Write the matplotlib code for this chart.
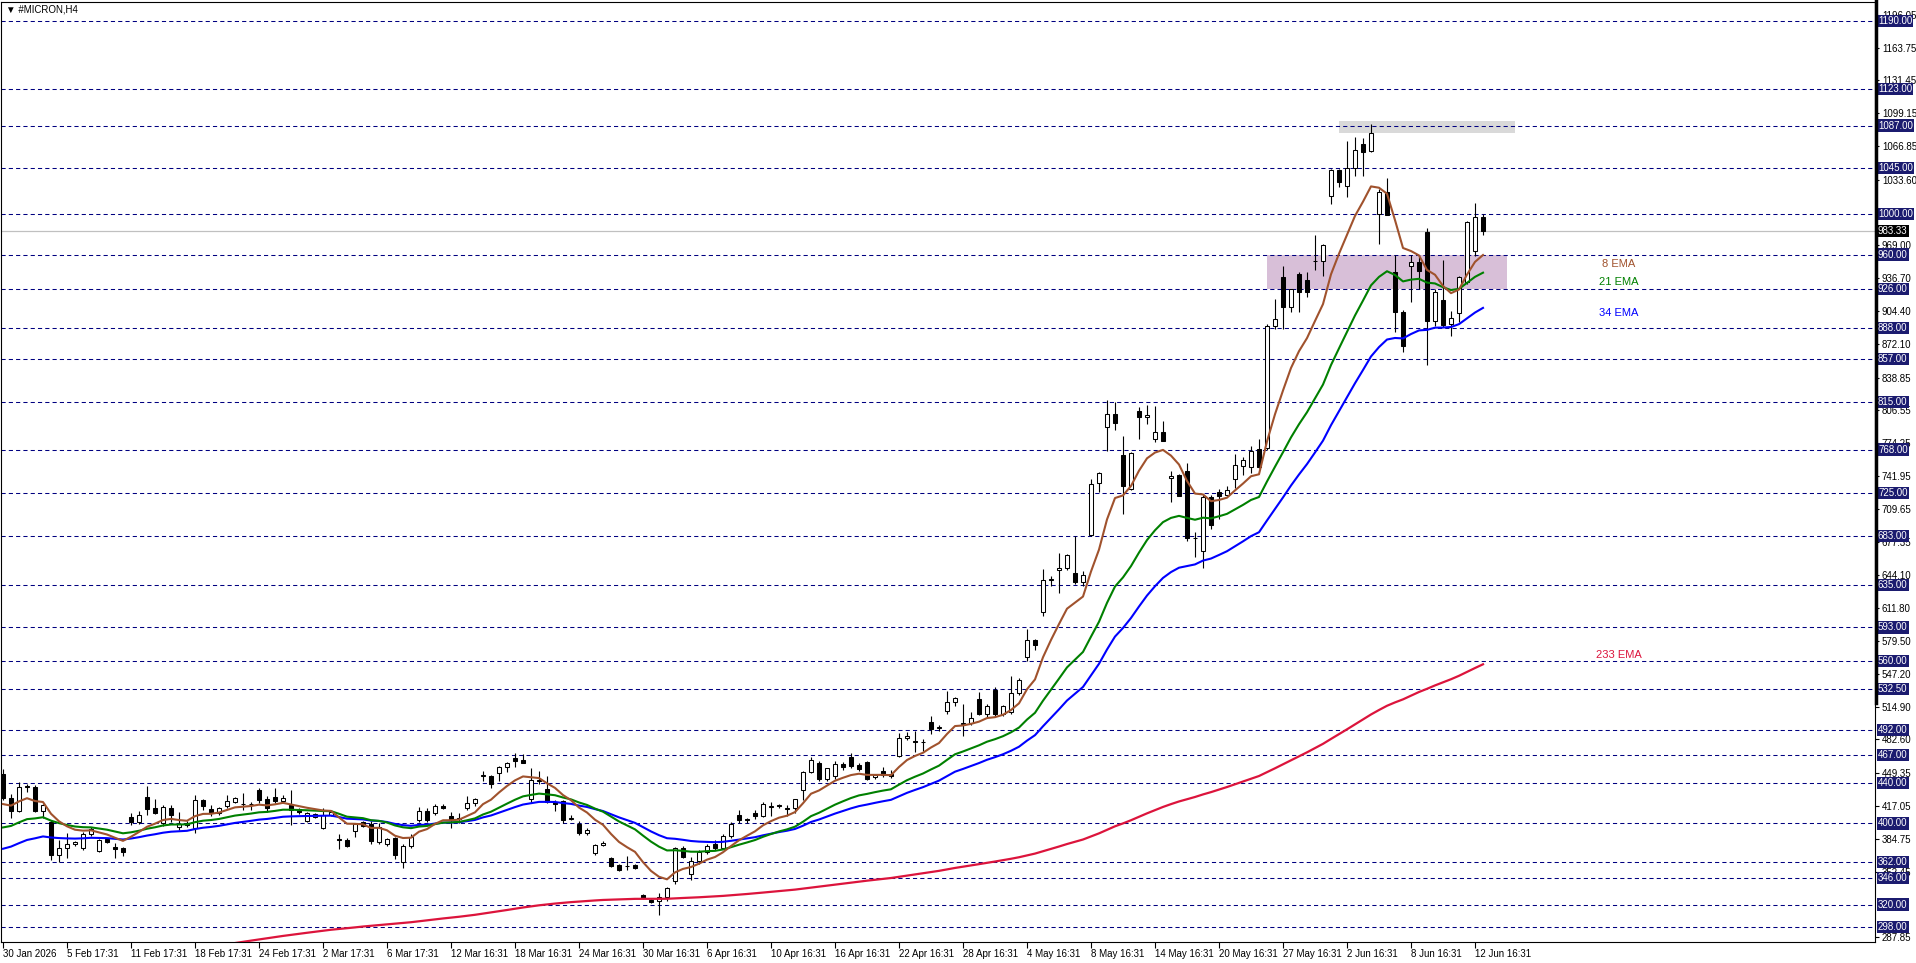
''' MICRON H4 chart with EMA 8/21/34/233 and levels '''

import numpy as np
import matplotlib
matplotlib.use('Agg')
import matplotlib.pyplot as plt
from matplotlib.patches import Rectangle
from matplotlib.lines import Line2D

plt.rcParams['font.family'] = ['Liberation Sans', 'DejaVu Sans']

# H4 candles (bar 0 = 30 Jan 2026)
opens = [
    448.6, 424.6, 412.2, 437.0, 435.5, 412.0, 401.7, 369.0, 376.0, 379.4,
    375.5, 389.6, 373.2, 384.7, 377.1, 375.5, 406.0, 401.0, 426.0, 414.8,
    400.0, 415.4, 396.0, 398.0, 395.1, 422.7, 413.8, 409.9, 417.4, 421.0,
    418.8, 419.0, 432.9, 424.0, 425.6, 422.3, 417.7, 414.0, 402.4, 406.6,
    395.1, 408.5, 384.7, 383.4, 392.5, 401.0, 399.0, 382.0, 379.8, 385.4,
    361.8, 377.8, 403.3, 412.5, 409.9, 417.4, 407.6, 404.0, 414.8, 419.7,
    446.9, 446.9, 449.3, 455.2, 464.0, 462.0, 423.6, 442.4, 433.5, 421.0,
    422.3, 404.0, 399.5, 390.3, 371.2, 379.0, 365.7, 359.1, 358.0, 359.1,
    329.0, 324.6, 323.6, 327.9, 343.7, 375.5, 350.0, 363.0, 372.0, 380.0,
    376.0, 388.0, 408.0, 404.0, 410.0, 407.6, 416.5, 417.5, 414.5, 414.8,
    432.8, 450.2, 459.4, 443.7, 446.5, 458.5, 465.0, 457.5, 460.0, 446.0,
    452.0, 448.5, 466.7, 483.7, 481.4, 480.0, 500.1, 494.0, 511.0, 519.2,
    497.8, 498.8, 522.5, 507.7, 531.7, 507.7, 510.0, 528.0, 563.5, 580.2,
    608.4, 639.7, 649.8, 651.1, 646.2, 638.0, 684.3, 735.1, 789.9, 803.1,
    763.0, 729.2, 805.7, 799.8, 778.5, 785.0, 739.7, 743.0, 747.3, 681.4,
    667.9, 721.0, 726.0, 723.3, 739.1, 752.2, 750.5, 768.6, 770.0, 889.3,
    937.6, 908.0, 940.9, 935.0, 954.0, 954.0, 1018.0, 1043.2, 1027.2, 1044.9,
    1068.8, 1061.6, 1000.0, 1021.3, 943.1, 903.1, 949.1, 952.3, 981.9, 894.9,
    915.2, 891.6, 902.2, 932.7, 963.8, 996.6]

highs = [
    453.5, 428.6, 440.4, 438.5, 437.8, 419.0, 403.0, 383.7, 390.3, 383.0,
    391.3, 396.0, 384.5, 386.0, 380.4, 376.5, 410.0, 412.0, 436.8, 424.0,
    418.0, 418.5, 411.0, 402.0, 428.0, 424.0, 417.7, 416.0, 428.0, 426.0,
    429.6, 420.7, 434.6, 427.0, 434.6, 428.0, 432.6, 415.0, 411.0, 410.0,
    414.8, 412.0, 389.3, 385.5, 400.0, 402.0, 402.0, 400.0, 386.0, 386.5,
    380.0, 390.0, 416.0, 415.0, 419.4, 419.5, 410.8, 410.0, 427.0, 424.5,
    451.9, 447.5, 456.0, 460.0, 469.0, 467.9, 454.2, 451.5, 446.3, 423.0,
    423.5, 408.0, 402.0, 395.0, 379.5, 383.0, 366.5, 360.0, 367.6, 360.0,
    330.0, 326.0, 331.0, 337.0, 377.0, 378.0, 367.0, 374.0, 380.0, 384.0,
    390.0, 401.0, 413.0, 405.0, 413.0, 420.7, 421.4, 419.0, 418.0, 424.0,
    452.0, 465.0, 461.7, 455.0, 461.0, 460.0, 469.0, 459.0, 461.0, 449.0,
    455.8, 453.0, 489.0, 490.3, 491.0, 483.0, 506.0, 496.5, 530.7, 524.0,
    517.6, 510.0, 529.0, 518.0, 534.0, 517.0, 545.4, 543.0, 591.4, 582.0,
    650.5, 643.2, 666.2, 665.5, 682.6, 648.0, 739.0, 746.0, 816.9, 814.6,
    781.7, 765.5, 809.5, 811.9, 811.3, 796.2, 747.3, 744.0, 754.8, 686.6,
    723.0, 723.3, 729.0, 732.5, 763.7, 760.4, 772.0, 778.5, 892.0, 916.0,
    949.0, 926.5, 942.5, 943.0, 979.3, 970.5, 1044.2, 1044.5, 1072.1, 1075.4,
    1074.4, 1088.5, 1024.5, 1035.0, 959.6, 905.4, 959.6, 958.9, 985.8, 926.1,
    954.6, 904.0, 939.2, 993.4, 1010.8, 1000.0]

lows = [
    423.0, 405.0, 411.0, 430.5, 411.0, 405.0, 364.0, 362.4, 365.7, 378.0,
    374.0, 388.0, 372.0, 381.0, 365.7, 368.3, 398.5, 399.0, 408.0, 409.0,
    397.0, 401.0, 393.0, 396.0, 391.0, 413.0, 407.0, 408.0, 415.0, 420.0,
    413.0, 413.0, 420.0, 411.0, 420.0, 420.0, 398.0, 409.0, 401.0, 405.0,
    394.0, 407.0, 374.5, 377.0, 387.0, 396.0, 380.0, 380.0, 378.0, 365.0,
    356.5, 376.0, 401.0, 401.8, 408.0, 414.0, 395.0, 400.0, 413.5, 417.0,
    442.0, 435.0, 442.0, 451.0, 455.8, 459.0, 419.7, 438.7, 420.0, 412.0,
    400.0, 403.0, 389.0, 389.0, 369.0, 378.0, 357.0, 353.5, 354.0, 355.0,
    325.5, 322.0, 309.9, 324.0, 340.0, 366.0, 344.0, 360.0, 370.0, 374.0,
    375.0, 386.0, 400.0, 400.5, 404.0, 406.5, 407.6, 415.5, 407.0, 410.0,
    423.0, 450.0, 442.0, 442.0, 444.0, 453.0, 455.0, 452.0, 443.0, 444.0,
    446.0, 445.0, 465.0, 482.0, 470.0, 471.5, 488.0, 490.5, 507.7, 515.9,
    486.4, 497.0, 507.0, 505.0, 505.0, 506.0, 508.0, 526.0, 560.2, 571.0,
    604.5, 633.4, 626.8, 649.0, 636.0, 634.0, 683.3, 726.0, 767.0, 787.0,
    704.6, 728.0, 778.5, 792.9, 775.2, 776.0, 716.8, 722.0, 678.4, 661.9,
    651.1, 690.0, 699.7, 722.0, 730.0, 743.3, 745.0, 750.0, 768.0, 887.0,
    887.0, 903.0, 903.0, 917.9, 945.1, 939.2, 1009.8, 1026.2, 1016.3, 1037.0,
    1037.0, 1061.0, 970.4, 999.0, 884.1, 863.7, 913.6, 926.1, 851.3, 890.0,
    889.0, 880.1, 893.3, 931.0, 958.9, 979.6]

closes = [
    424.6, 412.2, 436.1, 435.8, 412.2, 417.7, 369.0, 376.0, 379.8, 382.1,
    389.6, 394.2, 383.7, 382.1, 374.5, 372.2, 401.0, 408.0, 414.5, 410.5,
    415.8, 408.2, 399.4, 400.0, 423.0, 417.1, 409.9, 414.8, 422.3, 424.6,
    418.6, 419.5, 423.0, 415.4, 422.3, 425.3, 413.0, 411.0, 409.9, 409.2,
    408.2, 410.8, 383.4, 378.1, 399.0, 397.4, 383.0, 396.0, 384.7, 369.0,
    377.8, 387.0, 412.5, 403.3, 417.4, 415.5, 403.3, 405.5, 419.7, 423.6,
    447.2, 438.7, 455.2, 459.1, 461.7, 459.8, 442.4, 442.0, 421.4, 419.0,
    403.3, 405.0, 390.3, 393.6, 378.8, 381.0, 358.1, 354.2, 358.5, 355.8,
    326.3, 323.0, 327.3, 336.1, 375.5, 367.3, 363.4, 372.0, 378.0, 376.0,
    388.0, 399.0, 403.3, 403.5, 407.3, 418.7, 416.8, 417.4, 414.4, 423.6,
    450.2, 462.0, 443.7, 454.2, 458.5, 455.2, 456.8, 453.5, 443.7, 448.0,
    447.6, 446.5, 483.7, 486.3, 480.4, 480.5, 492.9, 494.5, 519.2, 523.1,
    498.5, 503.5, 507.7, 516.0, 507.7, 515.2, 528.0, 541.2, 580.6, 575.6,
    639.9, 640.2, 651.1, 664.2, 638.0, 644.5, 734.2, 745.0, 803.1, 794.2,
    731.9, 764.7, 799.8, 802.1, 785.0, 776.8, 742.4, 722.7, 680.7, 681.0,
    721.0, 693.8, 722.7, 728.6, 752.9, 758.1, 767.0, 750.5, 889.3, 896.5,
    908.0, 926.0, 922.8, 922.8, 953.7, 969.4, 1043.2, 1031.8, 1044.9, 1063.0,
    1061.3, 1079.7, 1021.3, 999.3, 903.1, 870.3, 953.0, 944.1, 894.9, 923.5,
    890.6, 897.2, 938.2, 991.7, 996.6, 983.33]

# EMA values at the first visible bar (history before it is off-screen)
ema_start = {8: 419.0, 21: 396.0, 34: 375.0, 233: 248.0}

date_labels = ["30 Jan 2026", "5 Feb 17:31", "11 Feb 17:31", "18 Feb 17:31", "24 Feb 17:31",
               "2 Mar 17:31", "6 Mar 17:31", "12 Mar 16:31", "18 Mar 16:31", "24 Mar 16:31",
               "30 Mar 16:31", "6 Apr 16:31", "10 Apr 16:31", "16 Apr 16:31", "22 Apr 16:31",
               "28 Apr 16:31", "4 May 16:31", "8 May 16:31", "14 May 16:31", "20 May 16:31",
               "27 May 16:31", "2 Jun 16:31", "8 Jun 16:31", "12 Jun 16:31"]

levels = [1190, 1123, 1087, 1045, 1000, 960, 926, 888, 857, 815, 768, 725, 683,
          635, 593, 560, 532.5, 492, 467, 440, 400, 362, 346, 320, 298]

# scale values that are not hidden behind a level label
price_ticks = [1196.05, 1163.75, 1131.45, 1099.15, 1066.85, 1033.60, 969.00,
               936.70, 904.40, 872.10, 838.85, 806.55, 774.25, 741.95, 709.65, 677.35,
               644.10, 611.80, 579.50, 547.20, 514.90, 482.60, 449.35, 417.05, 384.75,
               352.45, 287.85]

last_price = 983.33


def ema(values, period, first):
    k = 2.0 / (period + 1)
    out = [first]
    for v in values[1:]:
        out.append(out[-1] + k * (v - out[-1]))
    return np.array(out)


W, H = 1916, 963
fig = plt.figure(figsize=(W / 100, H / 100), dpi=100)
ax = fig.add_axes([1 / W, 21 / H, 1874 / W, 940 / H])
ax.set_xlim(-0.25, 234.0)
ax.set_ylim(283.2, 1208.7)

# zones
ax.add_patch(Rectangle((158, 926), 30, 34, fc='#d8bfd8', ec='none', zorder=1))
ax.add_patch(Rectangle((167, 1079.3), 22, 11.9, fc='#d9d9d9', ec='none', zorder=1))

# levels
for lv in levels:
    ax.axhline(lv, color='#000080', lw=0.75, ls=(0, (4, 3)), zorder=1.5)
ax.axhline(last_price, color='#c0c0c0', lw=0.9, zorder=1.5)

# candles
o = np.array(opens)
h = np.array(highs)
l = np.array(lows)
c = np.array(closes)
x = np.arange(len(c))
up = c >= o
ax.vlines(x, l, h, color='black', lw=0.8, zorder=3)
ax.bar(x, np.maximum(np.abs(c - o), 0.3), bottom=np.minimum(o, c), width=0.6,
       color=np.where(up, 'white', 'black'), edgecolor='black', linewidth=0.75, zorder=3.1)

# moving averages
ax.plot(x, ema(c, 233, ema_start[233]), color='#dc143c', lw=1.6, zorder=4)
ax.plot(x, ema(c, 34, ema_start[34]), color='#0000ff', lw=1.5, zorder=4)
ax.plot(x, ema(c, 21, ema_start[21]), color='#008000', lw=1.5, zorder=4)
ax.plot(x, ema(c, 8, ema_start[8]), color='#a0522d', lw=1.5, zorder=4)

ax.text(202, 950.8, '8 EMA', color='#a0522d', fontsize=8, ha='center', va='center')
ax.text(202, 933.0, '21 EMA', color='#008000', fontsize=8, ha='center', va='center')
ax.text(202, 902.5, '34 EMA', color='#0000ff', fontsize=8, ha='center', va='center')
ax.text(202, 565.8, '233 EMA', color='#dc143c', fontsize=8, ha='center', va='center')

# price scale
ax.yaxis.tick_right()
ax.set_yticks(price_ticks)
ax.set_yticklabels(['%.2f' % v for v in price_ticks])
ax.tick_params(axis='y', length=3, width=0.8, pad=2, labelsize=7, colors='black')

for lv in levels:
    ax.annotate('%.2f' % lv, xy=(1, lv), xycoords=('axes fraction', 'data'),
                xytext=(3, 0), textcoords='offset pixels', ha='left', va='center',
                fontsize=7, color='white', zorder=10, annotation_clip=False,
                bbox=dict(boxstyle='square,pad=0.12', fc='#1b1b6f', ec='none'))
ax.annotate('%.2f' % last_price, xy=(1, last_price), xycoords=('axes fraction', 'data'),
            xytext=(3, 0), textcoords='offset pixels', ha='left', va='center',
            fontsize=7, color='white', zorder=10, annotation_clip=False,
            bbox=dict(boxstyle='square,pad=0.12', fc='black', ec='none'))

# time scale
ax.set_xticks(np.arange(len(date_labels)) * 8)
ax.set_xticklabels(date_labels, fontsize=7, ha='left')
ax.tick_params(axis='x', length=4, width=0.8, pad=1)

for sp in ax.spines.values():
    sp.set_color('black')
    sp.set_linewidth(0.8)

fig.add_artist(Line2D([1875.5 / W] * 2, [1 - 1 / H, (H - 703) / H], transform=fig.transFigure,
                      color='black', lw=2.5))

fig.text(6 / W, 1 - 9 / H, '\u25bc #MICRON,H4', fontsize=7, ha='left', va='center')

fig.savefig('out.png', dpi=100)
